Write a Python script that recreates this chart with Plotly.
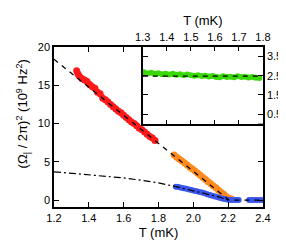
import plotly.graph_objects as go

# ---- data ----
red_T = [1.330, 1.337, 1.345, 1.36, 1.375, 1.39, 1.405, 1.42, 1.435, 1.45, 1.465, 1.48,
         1.495, 1.51, 1.525, 1.54, 1.555, 1.57, 1.585, 1.60, 1.615, 1.63, 1.645, 1.66,
         1.675, 1.69, 1.705, 1.72, 1.735, 1.75, 1.765, 1.78]
red_y = [16.9, 16.5, 16.2, 15.9, 15.7, 15.5, 15.1, 14.8, 14.6, 14.1, 13.9, 13.3,
         13.1, 12.8, 12.5, 12.2, 11.9, 11.6, 11.4, 11.1, 10.8, 10.5, 10.2, 10.0,
         9.7, 9.4, 9.2, 8.9, 8.6, 8.3, 8.1, 7.8]

orange_T = [1.89, 1.905, 1.92, 1.935, 1.95, 1.965, 1.98, 1.995, 2.01, 2.025, 2.04, 2.055,
            2.07, 2.085, 2.10, 2.115, 2.13, 2.145, 2.16, 2.175, 2.19, 2.205, 2.22]
orange_y = [5.9, 5.6, 5.35, 5.1, 4.85, 4.6, 4.3, 4.05, 3.8, 3.5, 3.25, 2.95,
            2.7, 2.4, 2.15, 1.85, 1.6, 1.3, 1.0, 0.75, 0.45, 0.25, 0.15]

blue_T = [1.90, 1.915, 1.93, 1.945, 1.96, 1.975, 1.99, 2.005, 2.02, 2.035, 2.05, 2.065,
          2.08, 2.095, 2.11, 2.125, 2.14, 2.155, 2.17, 2.185, 2.20, 2.215, 2.23, 2.245,
          2.26, 2.32, 2.335, 2.35, 2.365, 2.38, 2.395]
blue_y = [1.75, 1.70, 1.62, 1.55, 1.47, 1.40, 1.32, 1.23, 1.15, 1.07, 0.98, 0.88,
          0.78, 0.68, 0.58, 0.48, 0.37, 0.27, 0.17, 0.10, 0.05, 0.02, 0.0, 0.0,
          0.0, 0.0, 0.0, 0.0, 0.0, 0.0, 0.0]

fit_T = [1.2, 2.205, 2.4]
fit_y = [18.4, 0.0, 0.0]

dd_T = [1.2, 1.3, 1.4, 1.5, 1.6, 1.7, 1.8, 1.9, 2.0, 2.1, 2.15, 2.2]
dd_y = [3.7, 3.5, 3.3, 3.1, 2.9, 2.6, 2.25, 1.75, 1.25, 0.7, 0.4, 0.0]

green_T = [1.305, 1.32, 1.335, 1.35, 1.365, 1.38, 1.395, 1.41, 1.425, 1.44, 1.455, 1.47,
           1.485, 1.50, 1.515, 1.53, 1.545, 1.56, 1.575, 1.59, 1.605, 1.62, 1.635, 1.65,
           1.665, 1.68, 1.695, 1.71, 1.725, 1.74, 1.755, 1.77, 1.785]
green_y = [2.68, 2.62, 2.66, 2.60, 2.63, 2.58, 2.61, 2.57, 2.60, 2.55, 2.58, 2.53,
           2.56, 2.52, 2.50, 2.53, 2.48, 2.50, 2.46, 2.49, 2.44, 2.42, 2.47, 2.44,
           2.45, 2.42, 2.47, 2.43, 2.45, 2.41, 2.44, 2.40, 2.38]
inset_fit_T = [1.30, 1.78]
inset_fit_y = [2.48, 2.48]

main_xticks = [1.2, 1.4, 1.6, 1.8, 2.0, 2.2, 2.4]
main_yticks = [0, 5, 10, 15, 20]
inset_xticks = [1.3, 1.4, 1.5, 1.6, 1.7, 1.8]
inset_yticks = [0.5, 1.5, 2.5, 3.5]

FONT = "Liberation Sans, Arial, sans-serif"

fig = go.Figure()

def dots(x, y, color, size=6, width=4, xa="x", ya="y"):
    fig.add_trace(go.Scatter(x=x, y=y, mode="lines+markers", xaxis=xa, yaxis=ya,
                             line=dict(color=color, width=width),
                             marker=dict(color=color, size=size, line=dict(width=0)),
                             showlegend=False, hoverinfo="skip"))

dots(red_T, red_y, "#ff1a1a", size=7, width=5)
dots(orange_T, orange_y, "#ff8a1c", size=7, width=5)
fig.add_trace(go.Scatter(x=blue_T, y=blue_y, mode="markers",
                         marker=dict(color="#3a55ee", size=6, line=dict(width=0)),
                         showlegend=False, hoverinfo="skip"))
fig.add_trace(go.Scatter(x=fit_T, y=fit_y, mode="lines",
                         line=dict(color="black", width=1.3, dash="5px,5px"),
                         showlegend=False, hoverinfo="skip"))
fig.add_trace(go.Scatter(x=dd_T, y=dd_y, mode="lines",
                         line=dict(color="black", width=1.2, dash="7px,3px,2px,3px"),
                         showlegend=False, hoverinfo="skip"))

dots(green_T, green_y, "#3ad80a", size=6, width=4, xa="x2", ya="y2")
fig.add_trace(go.Scatter(x=inset_fit_T, y=inset_fit_y, mode="lines", xaxis="x2", yaxis="y2",
                         line=dict(color="black", width=1.3, dash="5px,5px"),
                         showlegend=False, hoverinfo="skip"))

axis_common = dict(showline=True, linecolor="black", linewidth=1.5, ticks="inside",
                   ticklen=5, tickwidth=1, tickcolor="black", mirror="ticks",
                   showgrid=False, zeroline=False,
                   tickfont=dict(family=FONT, size=11, color="black"))

fig.update_layout(
    width=286, height=242,
    margin=dict(l=46, r=21, t=37, b=40),
    paper_bgcolor="white", plot_bgcolor="white",
    font=dict(family=FONT, color="black"),
    xaxis=dict(range=[1.2, 2.4], tickvals=main_xticks, ticktext=[f"{v:.1f}" for v in main_xticks],
               domain=[0, 1], anchor="y",
               title=dict(text="T (mK)", font=dict(family=FONT, size=13), standoff=5),
               **axis_common),
    yaxis=dict(range=[-0.9, 20], tickvals=main_yticks, domain=[0, 1], anchor="x",
               **axis_common),
    xaxis2=dict(range=[1.3, 1.8], tickvals=inset_xticks, ticktext=[f"{v:.1f}" for v in inset_xticks],
                domain=[0.4247, 1], anchor="y2", side="top",
                title=dict(text="T (mK)", font=dict(family=FONT, size=13), standoff=2),
                **axis_common),
    yaxis2=dict(range=[0, 4], tickvals=inset_yticks, domain=[0.521, 1], anchor="x2", side="right",
                **axis_common),
)
fig.update_xaxes(ticklen=4, selector=dict(anchor="y2"))

fig.add_annotation(
    text="(Ω<sub>|</sub> / 2π)<sup>2</sup> (10<sup>9</sup> Hz<sup>2</sup>)",
    xref="paper", yref="paper", x=(13 - 46) / 219, y=(202 - 106) / 165,
    xanchor="center", yanchor="middle", textangle=-90, showarrow=False,
    font=dict(family=FONT, size=13, color="black"))

fig.write_html("out.html")
